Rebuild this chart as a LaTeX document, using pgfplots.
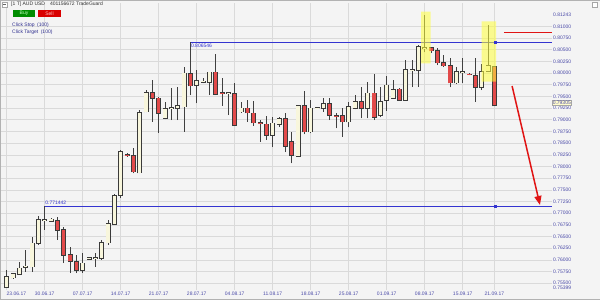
\documentclass[border=0pt]{standalone}
\usepackage{fontspec}
\setmainfont{Liberation Sans}
\usepackage{pgfplots}
\usepackage{pgfplotstable}
\pgfplotsset{compat=1.18}
\usetikzlibrary{arrows.meta}
\definecolor{bgc}{HTML}{F4F4F4}
\definecolor{gridc}{HTML}{DADADA}
\definecolor{tickc}{HTML}{4A4AA8}
\definecolor{bullc}{HTML}{F8F6DC}
\definecolor{bearc}{HTML}{E24A4A}
\definecolor{edgec}{HTML}{3A3A3A}
\definecolor{wickc}{HTML}{404040}
\definecolor{bluec}{HTML}{3434D0}
\definecolor{arrowc}{HTML}{E01414}
\definecolor{hlc}{HTML}{FFFF3C}
\definecolor{clickc}{HTML}{30308F}
\newcommand\fs{\fontsize{5}{6}\selectfont}
\pgfplotsset{candle/.style={draw=none, mark=none, forget plot,
  error bars/y dir=plus, error bars/y explicit, error bars/error mark=none}}

\pgfplotstableread{
i o h l c
0 0.75410 0.75784 0.75399 0.75641
1 0.75620 0.75720 0.75600 0.75699
2 0.75699 0.75962 0.75677 0.75821
3 0.75848 0.76212 0.75748 0.75859
4 0.75855 0.76497 0.75748 0.76356
5 0.76356 0.76940 0.76319 0.76854
6 0.76850 0.77144 0.76640 0.76860
7 0.76826 0.76891 0.76811 0.76869
12 0.75784 0.76142 0.75726 0.75928
13 0.76013 0.76069 0.75998 0.76047
14 0.76040 0.76154 0.75855 0.76050
15 0.76035 0.76426 0.75998 0.76368
16 0.76368 0.76854 0.76319 0.76769
17 0.76769 0.77404 0.76747 0.77368
18 0.77389 0.78352 0.77319 0.78316
21 0.77866 0.79208 0.77854 0.79150
22 0.79172 0.79636 0.79159 0.79578
25 0.79031 0.79386 0.79009 0.79230
26 0.79240 0.79673 0.78994 0.79250
27 0.79245 0.79694 0.78994 0.79294
28 0.79279 0.80122 0.78744 0.79994
30 0.79743 0.80064 0.79352 0.79829
31 0.79810 0.79887 0.79780 0.79820
32 0.79801 0.80028 0.79529 0.80015
35 0.79575 0.79600 0.79101 0.79580
37 0.79172 0.79373 0.79150 0.79245
42 0.78673 0.79052 0.78416 0.78924
43 0.78902 0.79052 0.78851 0.79022
46 0.78224 0.79315 0.78209 0.79300
48 0.78744 0.79422 0.78710 0.79245
49 0.79255 0.79279 0.79230 0.79260
50 0.79245 0.79471 0.79172 0.79337
54 0.78958 0.79386 0.78838 0.79279
55 0.79245 0.79529 0.79223 0.79386
57 0.79245 0.79814 0.79031 0.79566
59 0.79101 0.79694 0.79052 0.79386
60 0.79422 0.79936 0.79187 0.79733
61 0.79459 0.79850 0.79444 0.79636
63 0.79422 0.80278 0.79401 0.80064
64 0.80050 0.80278 0.79700 0.80070
65 0.80064 0.80599 0.79700 0.80563
66 0.80525 0.81243 0.80439 0.80535
71 0.79792 0.80135 0.79765 0.80028
72 0.80010 0.80315 0.79780 0.80020
75 0.79694 0.80193 0.79636 0.80028
76 0.80043 0.81027 0.80021 0.80150
}\upc

\pgfplotstableread{
i o h l c
8 0.76839 0.76925 0.76426 0.76640
9 0.76640 0.76711 0.75928 0.76105
10 0.76105 0.76283 0.75714 0.75977
11 0.75962 0.76105 0.75714 0.75784
19 0.78250 0.78282 0.78209 0.78240
20 0.78224 0.78389 0.77854 0.77888
23 0.79578 0.79850 0.78958 0.79459
24 0.79459 0.79493 0.78722 0.79138
29 0.79979 0.80655 0.79529 0.79728
33 0.80015 0.80407 0.79529 0.79551
34 0.79570 0.79899 0.79294 0.79560
36 0.79551 0.79792 0.78876 0.78887
38 0.79245 0.79422 0.78958 0.79150
39 0.79138 0.79401 0.78866 0.78936
40 0.78930 0.78994 0.78530 0.78920
41 0.78902 0.79080 0.78566 0.78673
44 0.79016 0.79144 0.78309 0.78438
45 0.78530 0.78744 0.78068 0.78245
47 0.79300 0.79615 0.78688 0.78744
51 0.79337 0.79471 0.78994 0.79101
52 0.79090 0.79144 0.78817 0.79080
53 0.79086 0.79245 0.78637 0.78958
56 0.79386 0.79707 0.79031 0.79245
58 0.79566 0.79972 0.78994 0.79052
62 0.79651 0.79673 0.79401 0.79422
67 0.80541 0.80550 0.80428 0.80477
68 0.80477 0.80541 0.80171 0.80220
69 0.80220 0.80385 0.80128 0.80156
70 0.80156 0.80315 0.79694 0.79792
73 0.79975 0.80000 0.79947 0.79970
74 0.79936 0.80315 0.79386 0.79694
77 0.80135 0.80150 0.79290 0.79305
}\dnc

\begin{document}
\begin{tikzpicture}
\fill[bgc] (0pt,0pt) rectangle (600pt,300pt);
\path[use as bounding box] (0pt,0pt) rectangle (600pt,300pt);
\begin{axis}[
  at={(1pt,10pt)}, anchor=south west,
  scale only axis, width=551pt, height=287pt,
  xmin=-0.9, xmax=86.1, ymin=0.753553, ymax=0.814983,
  clip=false,
  axis background/.style={fill=bgc},
  axis line style={draw=none},
  major tick length=0pt,
  grid=major,
  major grid style={draw=gridc, line width=0.45pt},
  xtick={0,6,12,18,24,30,36,42,48,54,60,66,72,77},
  xticklabels={\makebox[0pt][l]{23.06.17},30.06.17,07.07.17,14.07.17,21.07.17,28.07.17,04.08.17,11.08.17,18.08.17,25.08.17,01.09.17,08.09.17,15.09.17,21.09.17},
  xticklabel style={font=\fs, text=tickc, inner sep=0.5pt, yshift=-1.5pt},
  ytick={0.755,0.7575,0.76,0.7625,0.765,0.7675,0.77,0.7725,0.775,0.7775,0.78,0.7825,0.785,0.7875,0.79,0.7925,0.795,0.7975,0.8,0.8025,0.805,0.8075,0.81},
  extra y ticks={0.75399,0.81243},
  extra y tick style={grid=none},
  scaled y ticks=false,
  yticklabel pos=right,
  yticklabel style={font=\fs, text=tickc, inner sep=1pt, anchor=west,
    /pgf/number format/fixed, /pgf/number format/fixed zerofill,
    /pgf/number format/precision=5},
  /pgf/number format/assume math mode=true,
]
% level lines
\addplot[bluec, line width=0.8pt, forget plot] coordinates {(29,0.806546) (86.1,0.806546)};
\addplot[bluec, line width=0.8pt, forget plot] coordinates {(6,0.771442) (86.1,0.771442)};
\addplot[only marks, mark=square*, mark size=0.9pt, bluec, forget plot] coordinates {(77.1,0.806546) (77.1,0.771442)};
% wicks
\addplot[candle, error bars/error bar style={draw=wickc, line width=0.75pt}]
  table[x=i, y=l, y error plus expr=\thisrow{h}-\thisrow{l}] {\upc};
\addplot[candle, error bars/error bar style={draw=wickc, line width=0.75pt}]
  table[x=i, y=l, y error plus expr=\thisrow{h}-\thisrow{l}] {\dnc};
% bodies: outline (slightly taller than the body)
\addplot[candle, error bars/error bar style={draw=edgec, line width=5pt}]
  table[x=i, y expr=\thisrow{o}-0.00014, y error plus expr=\thisrow{c}-\thisrow{o}+0.00028] {\upc};
\addplot[candle, error bars/error bar style={draw=edgec, line width=5pt}]
  table[x=i, y expr=\thisrow{c}-0.00014, y error plus expr=\thisrow{o}-\thisrow{c}+0.00028] {\dnc};
% bodies: fill
\addplot[candle, error bars/error bar style={draw=bullc, line width=3.4pt}]
  table[x=i, y=o, y error plus expr=\thisrow{c}-\thisrow{o}] {\upc};
\addplot[candle, error bars/error bar style={draw=bearc, line width=3.4pt}]
  table[x=i, y=c, y error plus expr=\thisrow{o}-\thisrow{c}] {\dnc};
% highlights
\addplot[draw=none, fill=hlc, fill opacity=0.55, forget plot] coordinates {(65.42,0.81312) (66.92,0.81312) (66.92,0.80208) (65.42,0.80208) (65.42,0.81312)};
\addplot[draw=none, fill=hlc, fill opacity=0.55, forget plot] coordinates {(74.97,0.81106) (77.26,0.81106) (77.26,0.79814) (74.97,0.79814) (74.97,0.81106)};
% red annotations
\addplot[arrowc, line width=1.6pt, forget plot] coordinates {(78.5,0.80871) (86.1,0.80871)};
\addplot[arrowc, line width=1.5pt, forget plot, -{Triangle[length=9pt,width=7pt]}] coordinates {(79.8,0.79722) (84.2,0.77175)};
% labels
\node[anchor=north west, font=\fs, text=bluec, inner sep=0.5pt, yshift=-1pt] at (axis cs:29,0.806546) {0.806546};
\node[anchor=south west, font=\fs, text=bluec, inner sep=0.5pt, yshift=1pt] at (axis cs:6,0.771442) {0.771442};
\node[anchor=west, fill=yellow!20, draw=gray!70, line width=0.3pt, inner sep=0.6pt, font=\fs, text=tickc] at (axis cs:86.1,0.79370) {0.79305};
\end{axis}
% header overlays
\draw[gray!70, line width=0.4pt, fill=white] (2pt,293pt) rectangle (7pt,298pt);
\draw[gray!80!black, line width=0.4pt] (3pt,295.5pt) -- (6pt,295.5pt);
\node[anchor=west, font=\fs, text=black!80, inner sep=0pt] at (11pt,295.5pt) {[1 T] AUD USD\quad 401156672 TradeGuard};
\fill[green!55!black] (13pt,283pt) rectangle (35pt,290pt);
\node[font=\fs, text=green!25!white, inner sep=0pt] at (24pt,286.5pt) {Buy};
\fill[red!85!black] (38pt,283pt) rectangle (61pt,290pt);
\node[font=\fs, text=red!25!white, inner sep=0pt] at (49.5pt,286.5pt) {Sell};
\node[anchor=west, font=\fs, text=clickc, inner sep=0pt] at (12pt,275pt) {Click Stop\enspace(100)};
\node[anchor=west, font=\fs, text=clickc, inner sep=0pt] at (12pt,268pt) {Click Target\enspace(100)};
\draw[gray!70, line width=0.4pt, fill=white] (592pt,293pt) rectangle (597pt,298pt);
\draw[gray!60, line width=0.5pt] (0.25pt,0.25pt) rectangle (599.75pt,299.75pt);
\end{tikzpicture}
\end{document}
